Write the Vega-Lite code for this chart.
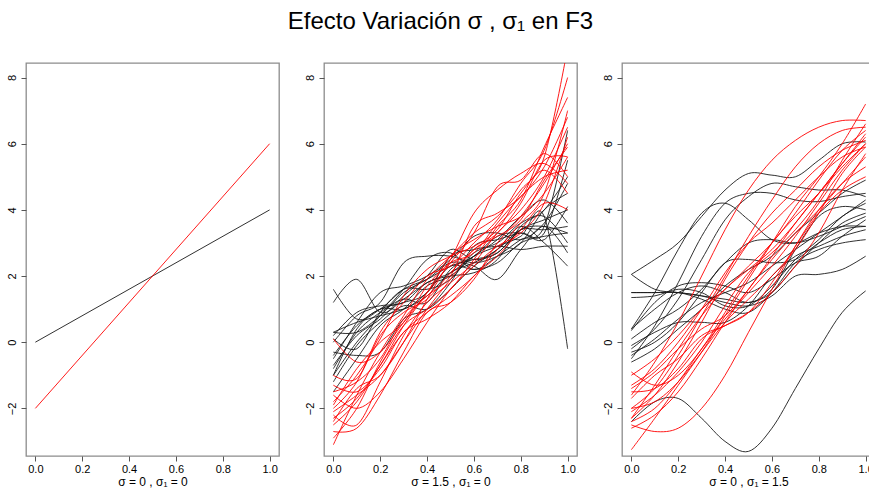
{
  "$schema": "https://vega.github.io/schema/vega-lite/v6.json",
  "padding": {"left": 5, "top": 10, "right": 0, "bottom": 0},
  "background": "white",
  "title": {"text": "Efecto Variación σ , σ₁ en F3", "font": "Liberation Sans", "fontSize": 24, "fontWeight": "normal", "color": "#000", "anchor": "middle", "offset": 28},
  "bounds": "flush",
  "spacing": 45,
  "config": {
    "view": {"stroke": "#8c8c8c", "strokeWidth": 1.3},
    "axis": {"grid": false, "domain": false, "tickColor": "#555", "tickSize": 5, "labelFont": "Liberation Sans", "labelFontSize": 11, "labelColor": "#000", "titleFont": "Liberation Sans", "titleFontSize": 12, "titleFontWeight": "normal", "titleColor": "#000"}
  },
  "datasets": {
    "d1": [
      {"s": "k", "c": "k", "x": 0, "y": 0}, {"s": "k", "c": "k", "x": 1, "y": 4},
      {"s": "r", "c": "r", "x": 0, "y": -2}, {"s": "r", "c": "r", "x": 1, "y": 6}
    ],
    "d2": [
      {"s":"k01","c":"k","x":0,"y":1.6},{"s":"k01","c":"k","x":0.1,"y":0.7},{"s":"k01","c":"k","x":0.2,"y":1.0},{"s":"k01","c":"k","x":0.3,"y":1.6},{"s":"k01","c":"k","x":0.4,"y":1.9},{"s":"k01","c":"k","x":0.5,"y":2.3},{"s":"k01","c":"k","x":0.6,"y":2.5},{"s":"k01","c":"k","x":0.7,"y":2.7},{"s":"k01","c":"k","x":0.8,"y":3.4},{"s":"k01","c":"k","x":0.9,"y":3.5},{"s":"k01","c":"k","x":1,"y":3.3},
      {"s":"k02","c":"k","x":0,"y":1.2},{"s":"k02","c":"k","x":0.1,"y":1.9},{"s":"k02","c":"k","x":0.2,"y":0.9},{"s":"k02","c":"k","x":0.3,"y":1.3},{"s":"k02","c":"k","x":0.4,"y":1.8},{"s":"k02","c":"k","x":0.5,"y":2.1},{"s":"k02","c":"k","x":0.6,"y":2.6},{"s":"k02","c":"k","x":0.7,"y":2.9},{"s":"k02","c":"k","x":0.8,"y":3.2},{"s":"k02","c":"k","x":0.9,"y":3.8},{"s":"k02","c":"k","x":1,"y":-0.2},
      {"s":"k03","c":"k","x":0,"y":0.3},{"s":"k03","c":"k","x":0.1,"y":0.3},{"s":"k03","c":"k","x":0.2,"y":0.8},{"s":"k03","c":"k","x":0.3,"y":1.5},{"s":"k03","c":"k","x":0.4,"y":1.9},{"s":"k03","c":"k","x":0.5,"y":2.4},{"s":"k03","c":"k","x":0.6,"y":2.3},{"s":"k03","c":"k","x":0.7,"y":1.9},{"s":"k03","c":"k","x":0.8,"y":2.8},{"s":"k03","c":"k","x":0.9,"y":3.5},{"s":"k03","c":"k","x":1,"y":2.7},
      {"s":"k04","c":"k","x":0,"y":-0.4},{"s":"k04","c":"k","x":0.1,"y":0.5},{"s":"k04","c":"k","x":0.2,"y":1.0},{"s":"k04","c":"k","x":0.3,"y":1.2},{"s":"k04","c":"k","x":0.4,"y":1.5},{"s":"k04","c":"k","x":0.5,"y":2.6},{"s":"k04","c":"k","x":0.6,"y":2.8},{"s":"k04","c":"k","x":0.7,"y":3.0},{"s":"k04","c":"k","x":0.8,"y":3.6},{"s":"k04","c":"k","x":0.9,"y":3.8},{"s":"k04","c":"k","x":1,"y":3.0},
      {"s":"k05","c":"k","x":0,"y":-1.0},{"s":"k05","c":"k","x":0.1,"y":0.0},{"s":"k05","c":"k","x":0.2,"y":0.8},{"s":"k05","c":"k","x":0.3,"y":1.6},{"s":"k05","c":"k","x":0.4,"y":2.5},{"s":"k05","c":"k","x":0.5,"y":2.7},{"s":"k05","c":"k","x":0.6,"y":2.2},{"s":"k05","c":"k","x":0.7,"y":2.6},{"s":"k05","c":"k","x":0.8,"y":3.1},{"s":"k05","c":"k","x":0.9,"y":3.5},{"s":"k05","c":"k","x":1,"y":6.4},
      {"s":"k06","c":"k","x":0,"y":-0.3},{"s":"k06","c":"k","x":0.1,"y":-0.4},{"s":"k06","c":"k","x":0.2,"y":-0.3},{"s":"k06","c":"k","x":0.3,"y":0.7},{"s":"k06","c":"k","x":0.4,"y":1.0},{"s":"k06","c":"k","x":0.5,"y":1.8},{"s":"k06","c":"k","x":0.6,"y":2.9},{"s":"k06","c":"k","x":0.7,"y":3.1},{"s":"k06","c":"k","x":0.8,"y":3.3},{"s":"k06","c":"k","x":0.9,"y":3.3},{"s":"k06","c":"k","x":1,"y":5.5},
      {"s":"k07","c":"k","x":0,"y":0.0},{"s":"k07","c":"k","x":0.1,"y":0.8},{"s":"k07","c":"k","x":0.2,"y":1.2},{"s":"k07","c":"k","x":0.3,"y":2.4},{"s":"k07","c":"k","x":0.4,"y":2.6},{"s":"k07","c":"k","x":0.5,"y":2.6},{"s":"k07","c":"k","x":0.6,"y":2.4},{"s":"k07","c":"k","x":0.7,"y":2.6},{"s":"k07","c":"k","x":0.8,"y":3.0},{"s":"k07","c":"k","x":0.9,"y":4.0},{"s":"k07","c":"k","x":1,"y":4.5},
      {"s":"k08","c":"k","x":0,"y":-1.5},{"s":"k08","c":"k","x":0.1,"y":-0.5},{"s":"k08","c":"k","x":0.2,"y":0.5},{"s":"k08","c":"k","x":0.3,"y":1.0},{"s":"k08","c":"k","x":0.4,"y":1.7},{"s":"k08","c":"k","x":0.5,"y":2.0},{"s":"k08","c":"k","x":0.6,"y":2.6},{"s":"k08","c":"k","x":0.7,"y":3.1},{"s":"k08","c":"k","x":0.8,"y":3.8},{"s":"k08","c":"k","x":0.9,"y":4.3},{"s":"k08","c":"k","x":1,"y":3.6},
      {"s":"k09","c":"k","x":0,"y":-0.8},{"s":"k09","c":"k","x":0.1,"y":0.3},{"s":"k09","c":"k","x":0.2,"y":0.9},{"s":"k09","c":"k","x":0.3,"y":1.3},{"s":"k09","c":"k","x":0.4,"y":1.2},{"s":"k09","c":"k","x":0.5,"y":2.2},{"s":"k09","c":"k","x":0.6,"y":2.6},{"s":"k09","c":"k","x":0.7,"y":3.2},{"s":"k09","c":"k","x":0.8,"y":3.3},{"s":"k09","c":"k","x":0.9,"y":3.1},{"s":"k09","c":"k","x":1,"y":4.1},
      {"s":"k10","c":"k","x":0,"y":0.2},{"s":"k10","c":"k","x":0.1,"y":0.9},{"s":"k10","c":"k","x":0.2,"y":1.1},{"s":"k10","c":"k","x":0.3,"y":1.2},{"s":"k10","c":"k","x":0.4,"y":1.8},{"s":"k10","c":"k","x":0.5,"y":2.0},{"s":"k10","c":"k","x":0.6,"y":2.1},{"s":"k10","c":"k","x":0.7,"y":2.5},{"s":"k10","c":"k","x":0.8,"y":3.5},{"s":"k10","c":"k","x":0.9,"y":4.0},{"s":"k10","c":"k","x":1,"y":5.0},
      {"s":"k11","c":"k","x":0,"y":-1.2},{"s":"k11","c":"k","x":0.1,"y":-0.1},{"s":"k11","c":"k","x":0.2,"y":0.6},{"s":"k11","c":"k","x":0.3,"y":1.1},{"s":"k11","c":"k","x":0.4,"y":1.0},{"s":"k11","c":"k","x":0.5,"y":1.6},{"s":"k11","c":"k","x":0.6,"y":2.3},{"s":"k11","c":"k","x":0.7,"y":2.8},{"s":"k11","c":"k","x":0.8,"y":3.5},{"s":"k11","c":"k","x":0.9,"y":3.0},{"s":"k11","c":"k","x":1,"y":2.3},
      {"s":"k12","c":"k","x":0,"y":-0.5},{"s":"k12","c":"k","x":0.1,"y":0.6},{"s":"k12","c":"k","x":0.2,"y":1.5},{"s":"k12","c":"k","x":0.3,"y":1.7},{"s":"k12","c":"k","x":0.4,"y":2.0},{"s":"k12","c":"k","x":0.5,"y":2.5},{"s":"k12","c":"k","x":0.6,"y":3.2},{"s":"k12","c":"k","x":0.7,"y":3.3},{"s":"k12","c":"k","x":0.8,"y":3.1},{"s":"k12","c":"k","x":0.9,"y":3.6},{"s":"k12","c":"k","x":1,"y":4.8},
      {"s":"k13","c":"k","x":0,"y":0.3},{"s":"k13","c":"k","x":0.1,"y":0.6},{"s":"k13","c":"k","x":0.2,"y":0.8},{"s":"k13","c":"k","x":0.3,"y":1.0},{"s":"k13","c":"k","x":0.4,"y":1.4},{"s":"k13","c":"k","x":0.5,"y":2.1},{"s":"k13","c":"k","x":0.6,"y":2.4},{"s":"k13","c":"k","x":0.7,"y":2.8},{"s":"k13","c":"k","x":0.8,"y":3.4},{"s":"k13","c":"k","x":0.9,"y":3.4},{"s":"k13","c":"k","x":1,"y":3.5},
      {"s":"k14","c":"k","x":0,"y":-0.7},{"s":"k14","c":"k","x":0.1,"y":0.2},{"s":"k14","c":"k","x":0.2,"y":0.7},{"s":"k14","c":"k","x":0.3,"y":1.4},{"s":"k14","c":"k","x":0.4,"y":2.0},{"s":"k14","c":"k","x":0.5,"y":2.8},{"s":"k14","c":"k","x":0.6,"y":2.5},{"s":"k14","c":"k","x":0.7,"y":2.7},{"s":"k14","c":"k","x":0.8,"y":3.4},{"s":"k14","c":"k","x":0.9,"y":3.7},{"s":"k14","c":"k","x":1,"y":4.0},
      {"s":"k15","c":"k","x":0,"y":0.1},{"s":"k15","c":"k","x":0.1,"y":-0.2},{"s":"k15","c":"k","x":0.2,"y":0.9},{"s":"k15","c":"k","x":0.3,"y":1.6},{"s":"k15","c":"k","x":0.4,"y":1.6},{"s":"k15","c":"k","x":0.5,"y":1.9},{"s":"k15","c":"k","x":0.6,"y":2.7},{"s":"k15","c":"k","x":0.7,"y":2.9},{"s":"k15","c":"k","x":0.8,"y":2.8},{"s":"k15","c":"k","x":0.9,"y":2.9},{"s":"k15","c":"k","x":1,"y":2.9},
      {"s":"k16","c":"k","x":0,"y":-1.0},{"s":"k16","c":"k","x":0.1,"y":0.4},{"s":"k16","c":"k","x":0.2,"y":1.0},{"s":"k16","c":"k","x":0.3,"y":1.0},{"s":"k16","c":"k","x":0.4,"y":1.5},{"s":"k16","c":"k","x":0.5,"y":2.3},{"s":"k16","c":"k","x":0.6,"y":2.2},{"s":"k16","c":"k","x":0.7,"y":2.4},{"s":"k16","c":"k","x":0.8,"y":3.0},{"s":"k16","c":"k","x":0.9,"y":3.2},{"s":"k16","c":"k","x":1,"y":3.3},
      {"s":"r01","c":"r","x":0,"y":-3.1},{"s":"r01","c":"r","x":0.1,"y":-1.6},{"s":"r01","c":"r","x":0.2,"y":-0.3},{"s":"r01","c":"r","x":0.3,"y":0.8},{"s":"r01","c":"r","x":0.4,"y":1.9},{"s":"r01","c":"r","x":0.5,"y":2.6},{"s":"r01","c":"r","x":0.6,"y":3.3},{"s":"r01","c":"r","x":0.7,"y":3.8},{"s":"r01","c":"r","x":0.8,"y":4.6},{"s":"r01","c":"r","x":0.9,"y":5.6},{"s":"r01","c":"r","x":1,"y":8.9},
      {"s":"r02","c":"r","x":0,"y":-2.0},{"s":"r02","c":"r","x":0.1,"y":-1.2},{"s":"r02","c":"r","x":0.2,"y":0.3},{"s":"r02","c":"r","x":0.3,"y":1.2},{"s":"r02","c":"r","x":0.4,"y":2.0},{"s":"r02","c":"r","x":0.5,"y":2.3},{"s":"r02","c":"r","x":0.6,"y":3.0},{"s":"r02","c":"r","x":0.7,"y":3.7},{"s":"r02","c":"r","x":0.8,"y":4.8},{"s":"r02","c":"r","x":0.9,"y":5.8},{"s":"r02","c":"r","x":1,"y":8.0},
      {"s":"r03","c":"r","x":0,"y":-2.5},{"s":"r03","c":"r","x":0.1,"y":-1.8},{"s":"r03","c":"r","x":0.2,"y":-0.7},{"s":"r03","c":"r","x":0.3,"y":0.3},{"s":"r03","c":"r","x":0.4,"y":0.9},{"s":"r03","c":"r","x":0.5,"y":1.4},{"s":"r03","c":"r","x":0.6,"y":2.0},{"s":"r03","c":"r","x":0.7,"y":2.8},{"s":"r03","c":"r","x":0.8,"y":3.6},{"s":"r03","c":"r","x":0.9,"y":4.5},{"s":"r03","c":"r","x":1,"y":7.0},
      {"s":"r04","c":"r","x":0,"y":-1.5},{"s":"r04","c":"r","x":0.1,"y":-1.2},{"s":"r04","c":"r","x":0.2,"y":-0.5},{"s":"r04","c":"r","x":0.3,"y":0.7},{"s":"r04","c":"r","x":0.4,"y":1.4},{"s":"r04","c":"r","x":0.5,"y":2.0},{"s":"r04","c":"r","x":0.6,"y":3.5},{"s":"r04","c":"r","x":0.7,"y":3.9},{"s":"r04","c":"r","x":0.8,"y":4.4},{"s":"r04","c":"r","x":0.9,"y":5.3},{"s":"r04","c":"r","x":1,"y":6.8},
      {"s":"r05","c":"r","x":0,"y":-2.2},{"s":"r05","c":"r","x":0.1,"y":-2.5},{"s":"r05","c":"r","x":0.2,"y":-1.2},{"s":"r05","c":"r","x":0.3,"y":0.2},{"s":"r05","c":"r","x":0.4,"y":1.2},{"s":"r05","c":"r","x":0.5,"y":1.8},{"s":"r05","c":"r","x":0.6,"y":2.4},{"s":"r05","c":"r","x":0.7,"y":3.3},{"s":"r05","c":"r","x":0.8,"y":4.0},{"s":"r05","c":"r","x":0.9,"y":5.0},{"s":"r05","c":"r","x":1,"y":6.5},
      {"s":"r06","c":"r","x":0,"y":-1.0},{"s":"r06","c":"r","x":0.1,"y":-1.1},{"s":"r06","c":"r","x":0.2,"y":0.2},{"s":"r06","c":"r","x":0.3,"y":0.9},{"s":"r06","c":"r","x":0.4,"y":1.3},{"s":"r06","c":"r","x":0.5,"y":2.1},{"s":"r06","c":"r","x":0.6,"y":2.8},{"s":"r06","c":"r","x":0.7,"y":3.3},{"s":"r06","c":"r","x":0.8,"y":4.2},{"s":"r06","c":"r","x":0.9,"y":5.5},{"s":"r06","c":"r","x":1,"y":5.6},
      {"s":"r07","c":"r","x":0,"y":0.1},{"s":"r07","c":"r","x":0.1,"y":-0.6},{"s":"r07","c":"r","x":0.2,"y":-0.3},{"s":"r07","c":"r","x":0.3,"y":0.6},{"s":"r07","c":"r","x":0.4,"y":1.5},{"s":"r07","c":"r","x":0.5,"y":2.4},{"s":"r07","c":"r","x":0.6,"y":3.3},{"s":"r07","c":"r","x":0.7,"y":4.7},{"s":"r07","c":"r","x":0.8,"y":4.9},{"s":"r07","c":"r","x":0.9,"y":5.7},{"s":"r07","c":"r","x":1,"y":5.0},
      {"s":"r08","c":"r","x":0,"y":-2.7},{"s":"r08","c":"r","x":0.1,"y":-2.6},{"s":"r08","c":"r","x":0.2,"y":-1.6},{"s":"r08","c":"r","x":0.3,"y":-0.3},{"s":"r08","c":"r","x":0.4,"y":0.9},{"s":"r08","c":"r","x":0.5,"y":1.2},{"s":"r08","c":"r","x":0.6,"y":1.9},{"s":"r08","c":"r","x":0.7,"y":3.0},{"s":"r08","c":"r","x":0.8,"y":3.8},{"s":"r08","c":"r","x":0.9,"y":4.8},{"s":"r08","c":"r","x":1,"y":6.0},
      {"s":"r09","c":"r","x":0,"y":-1.8},{"s":"r09","c":"r","x":0.1,"y":-1.0},{"s":"r09","c":"r","x":0.2,"y":0.1},{"s":"r09","c":"r","x":0.3,"y":1.4},{"s":"r09","c":"r","x":0.4,"y":2.2},{"s":"r09","c":"r","x":0.5,"y":2.6},{"s":"r09","c":"r","x":0.6,"y":2.9},{"s":"r09","c":"r","x":0.7,"y":3.4},{"s":"r09","c":"r","x":0.8,"y":4.5},{"s":"r09","c":"r","x":0.9,"y":5.2},{"s":"r09","c":"r","x":1,"y":4.5},
      {"s":"r10","c":"r","x":0,"y":-2.3},{"s":"r10","c":"r","x":0.1,"y":-1.7},{"s":"r10","c":"r","x":0.2,"y":-0.7},{"s":"r10","c":"r","x":0.3,"y":0.5},{"s":"r10","c":"r","x":0.4,"y":1.5},{"s":"r10","c":"r","x":0.5,"y":2.6},{"s":"r10","c":"r","x":0.6,"y":3.1},{"s":"r10","c":"r","x":0.7,"y":3.5},{"s":"r10","c":"r","x":0.8,"y":3.8},{"s":"r10","c":"r","x":0.9,"y":4.5},{"s":"r10","c":"r","x":1,"y":5.6},
      {"s":"r11","c":"r","x":0,"y":-1.3},{"s":"r11","c":"r","x":0.1,"y":-1.5},{"s":"r11","c":"r","x":0.2,"y":-0.8},{"s":"r11","c":"r","x":0.3,"y":0.3},{"s":"r11","c":"r","x":0.4,"y":0.7},{"s":"r11","c":"r","x":0.5,"y":1.2},{"s":"r11","c":"r","x":0.6,"y":2.0},{"s":"r11","c":"r","x":0.7,"y":2.6},{"s":"r11","c":"r","x":0.8,"y":3.4},{"s":"r11","c":"r","x":0.9,"y":4.2},{"s":"r11","c":"r","x":1,"y":4.0},
      {"s":"r12","c":"r","x":0,"y":-2.9},{"s":"r12","c":"r","x":0.1,"y":-2.0},{"s":"r12","c":"r","x":0.2,"y":-0.6},{"s":"r12","c":"r","x":0.3,"y":0.5},{"s":"r12","c":"r","x":0.4,"y":1.0},{"s":"r12","c":"r","x":0.5,"y":1.6},{"s":"r12","c":"r","x":0.6,"y":2.5},{"s":"r12","c":"r","x":0.7,"y":3.5},{"s":"r12","c":"r","x":0.8,"y":4.3},{"s":"r12","c":"r","x":0.9,"y":5.9},{"s":"r12","c":"r","x":1,"y":7.4},
      {"s":"r13","c":"r","x":0,"y":-1.9},{"s":"r13","c":"r","x":0.1,"y":-0.8},{"s":"r13","c":"r","x":0.2,"y":0.0},{"s":"r13","c":"r","x":0.3,"y":0.6},{"s":"r13","c":"r","x":0.4,"y":1.7},{"s":"r13","c":"r","x":0.5,"y":2.4},{"s":"r13","c":"r","x":0.6,"y":2.7},{"s":"r13","c":"r","x":0.7,"y":3.6},{"s":"r13","c":"r","x":0.8,"y":4.4},{"s":"r13","c":"r","x":0.9,"y":5.0},{"s":"r13","c":"r","x":1,"y":5.2},
      {"s":"r14","c":"r","x":0,"y":-2.4},{"s":"r14","c":"r","x":0.1,"y":-1.4},{"s":"r14","c":"r","x":0.2,"y":-1.0},{"s":"r14","c":"r","x":0.3,"y":0.0},{"s":"r14","c":"r","x":0.4,"y":1.3},{"s":"r14","c":"r","x":0.5,"y":2.5},{"s":"r14","c":"r","x":0.6,"y":3.9},{"s":"r14","c":"r","x":0.7,"y":4.6},{"s":"r14","c":"r","x":0.8,"y":5.1},{"s":"r14","c":"r","x":0.9,"y":5.4},{"s":"r14","c":"r","x":1,"y":4.8},
      {"s":"r15","c":"r","x":0,"y":-1.6},{"s":"r15","c":"r","x":0.1,"y":-2.0},{"s":"r15","c":"r","x":0.2,"y":-1.5},{"s":"r15","c":"r","x":0.3,"y":-0.5},{"s":"r15","c":"r","x":0.4,"y":0.6},{"s":"r15","c":"r","x":0.5,"y":1.6},{"s":"r15","c":"r","x":0.6,"y":2.3},{"s":"r15","c":"r","x":0.7,"y":2.9},{"s":"r15","c":"r","x":0.8,"y":3.3},{"s":"r15","c":"r","x":0.9,"y":4.2},{"s":"r15","c":"r","x":1,"y":6.2},
      {"s":"r16","c":"r","x":0,"y":-2.1},{"s":"r16","c":"r","x":0.1,"y":-1.6},{"s":"r16","c":"r","x":0.2,"y":-1.0},{"s":"r16","c":"r","x":0.3,"y":0.0},{"s":"r16","c":"r","x":0.4,"y":1.0},{"s":"r16","c":"r","x":0.5,"y":1.9},{"s":"r16","c":"r","x":0.6,"y":2.8},{"s":"r16","c":"r","x":0.7,"y":3.2},{"s":"r16","c":"r","x":0.8,"y":3.7},{"s":"r16","c":"r","x":0.9,"y":4.9},{"s":"r16","c":"r","x":1,"y":5.9}
    ],
    "d3": [
      {"s":"k01","c":"k","x":0,"y":-2.4},{"s":"k01","c":"k","x":0.1,"y":-1.8},{"s":"k01","c":"k","x":0.2,"y":-1.7},{"s":"k01","c":"k","x":0.3,"y":-2.3},{"s":"k01","c":"k","x":0.4,"y":-3.0},{"s":"k01","c":"k","x":0.5,"y":-3.3},{"s":"k01","c":"k","x":0.6,"y":-2.6},{"s":"k01","c":"k","x":0.7,"y":-1.4},{"s":"k01","c":"k","x":0.8,"y":-0.2},{"s":"k01","c":"k","x":0.9,"y":0.9},{"s":"k01","c":"k","x":1,"y":1.55},
      {"s":"k02","c":"k","x":0,"y":2.05},{"s":"k02","c":"k","x":0.1,"y":2.5},{"s":"k02","c":"k","x":0.2,"y":3.0},{"s":"k02","c":"k","x":0.3,"y":3.8},{"s":"k02","c":"k","x":0.4,"y":4.6},{"s":"k02","c":"k","x":0.5,"y":5.1},{"s":"k02","c":"k","x":0.6,"y":5.05},{"s":"k02","c":"k","x":0.7,"y":5.0},{"s":"k02","c":"k","x":0.8,"y":5.5},{"s":"k02","c":"k","x":0.9,"y":6.0},{"s":"k02","c":"k","x":1,"y":6.05},
      {"s":"k03","c":"k","x":0,"y":0.4},{"s":"k03","c":"k","x":0.1,"y":1.5},{"s":"k03","c":"k","x":0.2,"y":2.8},{"s":"k03","c":"k","x":0.3,"y":3.9},{"s":"k03","c":"k","x":0.4,"y":4.2},{"s":"k03","c":"k","x":0.5,"y":3.7},{"s":"k03","c":"k","x":0.6,"y":3.1},{"s":"k03","c":"k","x":0.7,"y":3.0},{"s":"k03","c":"k","x":0.8,"y":3.3},{"s":"k03","c":"k","x":0.9,"y":3.5},{"s":"k03","c":"k","x":1,"y":3.5},
      {"s":"k04","c":"k","x":0,"y":-0.5},{"s":"k04","c":"k","x":0.1,"y":0.5},{"s":"k04","c":"k","x":0.2,"y":1.8},{"s":"k04","c":"k","x":0.3,"y":3.2},{"s":"k04","c":"k","x":0.4,"y":4.2},{"s":"k04","c":"k","x":0.5,"y":4.5},{"s":"k04","c":"k","x":0.6,"y":4.5},{"s":"k04","c":"k","x":0.7,"y":4.3},{"s":"k04","c":"k","x":0.8,"y":4.25},{"s":"k04","c":"k","x":0.9,"y":4.4},{"s":"k04","c":"k","x":1,"y":4.5},
      {"s":"k05","c":"k","x":0,"y":1.5},{"s":"k05","c":"k","x":0.1,"y":1.5},{"s":"k05","c":"k","x":0.2,"y":1.5},{"s":"k05","c":"k","x":0.3,"y":1.4},{"s":"k05","c":"k","x":0.4,"y":1.3},{"s":"k05","c":"k","x":0.5,"y":1.2},{"s":"k05","c":"k","x":0.6,"y":1.5},{"s":"k05","c":"k","x":0.7,"y":2.3},{"s":"k05","c":"k","x":0.8,"y":3.0},{"s":"k05","c":"k","x":0.9,"y":3.6},{"s":"k05","c":"k","x":1,"y":3.9},
      {"s":"k06","c":"k","x":0,"y":1.35},{"s":"k06","c":"k","x":0.1,"y":1.4},{"s":"k06","c":"k","x":0.2,"y":1.6},{"s":"k06","c":"k","x":0.3,"y":1.5},{"s":"k06","c":"k","x":0.4,"y":1.1},{"s":"k06","c":"k","x":0.5,"y":1.1},{"s":"k06","c":"k","x":0.6,"y":1.7},{"s":"k06","c":"k","x":0.7,"y":2.5},{"s":"k06","c":"k","x":0.8,"y":3.1},{"s":"k06","c":"k","x":0.9,"y":3.8},{"s":"k06","c":"k","x":1,"y":4.2},
      {"s":"k07","c":"k","x":0,"y":2.05},{"s":"k07","c":"k","x":0.1,"y":1.6},{"s":"k07","c":"k","x":0.2,"y":1.5},{"s":"k07","c":"k","x":0.3,"y":1.4},{"s":"k07","c":"k","x":0.4,"y":1.2},{"s":"k07","c":"k","x":0.5,"y":1.1},{"s":"k07","c":"k","x":0.6,"y":1.4},{"s":"k07","c":"k","x":0.7,"y":2.0},{"s":"k07","c":"k","x":0.8,"y":2.05},{"s":"k07","c":"k","x":0.9,"y":2.2},{"s":"k07","c":"k","x":1,"y":2.6},
      {"s":"k08","c":"k","x":0,"y":0.35},{"s":"k08","c":"k","x":0.1,"y":1.2},{"s":"k08","c":"k","x":0.2,"y":1.7},{"s":"k08","c":"k","x":0.3,"y":1.8},{"s":"k08","c":"k","x":0.4,"y":1.7},{"s":"k08","c":"k","x":0.5,"y":1.5},{"s":"k08","c":"k","x":0.6,"y":1.9},{"s":"k08","c":"k","x":0.7,"y":2.4},{"s":"k08","c":"k","x":0.8,"y":2.6},{"s":"k08","c":"k","x":0.9,"y":3.2},{"s":"k08","c":"k","x":1,"y":3.7},
      {"s":"k09","c":"k","x":0,"y":-0.1},{"s":"k09","c":"k","x":0.1,"y":0.3},{"s":"k09","c":"k","x":0.2,"y":0.6},{"s":"k09","c":"k","x":0.3,"y":0.6},{"s":"k09","c":"k","x":0.4,"y":0.6},{"s":"k09","c":"k","x":0.5,"y":1.1},{"s":"k09","c":"k","x":0.6,"y":2.0},{"s":"k09","c":"k","x":0.7,"y":2.6},{"s":"k09","c":"k","x":0.8,"y":2.9},{"s":"k09","c":"k","x":0.9,"y":3.2},{"s":"k09","c":"k","x":1,"y":3.4},
      {"s":"k10","c":"k","x":0,"y":-0.3},{"s":"k10","c":"k","x":0.1,"y":0.0},{"s":"k10","c":"k","x":0.2,"y":0.6},{"s":"k10","c":"k","x":0.3,"y":1.5},{"s":"k10","c":"k","x":0.4,"y":2.4},{"s":"k10","c":"k","x":0.5,"y":2.5},{"s":"k10","c":"k","x":0.6,"y":2.4},{"s":"k10","c":"k","x":0.7,"y":2.5},{"s":"k10","c":"k","x":0.8,"y":3.0},{"s":"k10","c":"k","x":0.9,"y":3.4},{"s":"k10","c":"k","x":1,"y":3.5},
      {"s":"k11","c":"k","x":0,"y":0.1},{"s":"k11","c":"k","x":0.1,"y":0.6},{"s":"k11","c":"k","x":0.2,"y":1.0},{"s":"k11","c":"k","x":0.3,"y":1.6},{"s":"k11","c":"k","x":0.4,"y":2.4},{"s":"k11","c":"k","x":0.5,"y":3.0},{"s":"k11","c":"k","x":0.6,"y":3.1},{"s":"k11","c":"k","x":0.7,"y":3.0},{"s":"k11","c":"k","x":0.8,"y":3.2},{"s":"k11","c":"k","x":0.9,"y":3.5},{"s":"k11","c":"k","x":1,"y":3.8},
      {"s":"k12","c":"k","x":0,"y":-0.6},{"s":"k12","c":"k","x":0.1,"y":-0.2},{"s":"k12","c":"k","x":0.2,"y":0.4},{"s":"k12","c":"k","x":0.3,"y":1.0},{"s":"k12","c":"k","x":0.4,"y":1.7},{"s":"k12","c":"k","x":0.5,"y":2.2},{"s":"k12","c":"k","x":0.6,"y":2.6},{"s":"k12","c":"k","x":0.7,"y":3.3},{"s":"k12","c":"k","x":0.8,"y":3.9},{"s":"k12","c":"k","x":0.9,"y":4.5},{"s":"k12","c":"k","x":1,"y":4.9},
      {"s":"k13","c":"k","x":0,"y":-0.2},{"s":"k13","c":"k","x":0.1,"y":0.4},{"s":"k13","c":"k","x":0.2,"y":1.3},{"s":"k13","c":"k","x":0.3,"y":2.5},{"s":"k13","c":"k","x":0.4,"y":3.7},{"s":"k13","c":"k","x":0.5,"y":4.4},{"s":"k13","c":"k","x":0.6,"y":4.8},{"s":"k13","c":"k","x":0.7,"y":4.7},{"s":"k13","c":"k","x":0.8,"y":4.6},{"s":"k13","c":"k","x":0.9,"y":4.6},{"s":"k13","c":"k","x":1,"y":4.4},
      {"s":"k14","c":"k","x":0,"y":1.5},{"s":"k14","c":"k","x":0.1,"y":1.5},{"s":"k14","c":"k","x":0.2,"y":1.5},{"s":"k14","c":"k","x":0.3,"y":1.3},{"s":"k14","c":"k","x":0.4,"y":1.0},{"s":"k14","c":"k","x":0.5,"y":0.9},{"s":"k14","c":"k","x":0.6,"y":1.5},{"s":"k14","c":"k","x":0.7,"y":2.4},{"s":"k14","c":"k","x":0.8,"y":2.8},{"s":"k14","c":"k","x":0.9,"y":3.0},{"s":"k14","c":"k","x":1,"y":3.1},
      {"s":"k15","c":"k","x":0,"y":-0.4},{"s":"k15","c":"k","x":0.1,"y":0.1},{"s":"k15","c":"k","x":0.2,"y":0.7},{"s":"k15","c":"k","x":0.3,"y":1.2},{"s":"k15","c":"k","x":0.4,"y":1.5},{"s":"k15","c":"k","x":0.5,"y":1.8},{"s":"k15","c":"k","x":0.6,"y":2.3},{"s":"k15","c":"k","x":0.7,"y":2.8},{"s":"k15","c":"k","x":0.8,"y":3.3},{"s":"k15","c":"k","x":0.9,"y":3.8},{"s":"k15","c":"k","x":1,"y":4.3},
      {"s":"k16","c":"k","x":0,"y":0.4},{"s":"k16","c":"k","x":0.1,"y":1.0},{"s":"k16","c":"k","x":0.2,"y":1.5},{"s":"k16","c":"k","x":0.3,"y":1.7},{"s":"k16","c":"k","x":0.4,"y":1.5},{"s":"k16","c":"k","x":0.5,"y":1.2},{"s":"k16","c":"k","x":0.6,"y":1.6},{"s":"k16","c":"k","x":0.7,"y":2.8},{"s":"k16","c":"k","x":0.8,"y":3.8},{"s":"k16","c":"k","x":0.9,"y":4.1},{"s":"k16","c":"k","x":1,"y":4.0},
      {"s":"r01","c":"r","x":0,"y":-2.5},{"s":"r01","c":"r","x":0.1,"y":-2.7},{"s":"r01","c":"r","x":0.2,"y":-2.6},{"s":"r01","c":"r","x":0.3,"y":-2.0},{"s":"r01","c":"r","x":0.4,"y":-1.0},{"s":"r01","c":"r","x":0.5,"y":0.3},{"s":"r01","c":"r","x":0.6,"y":1.6},{"s":"r01","c":"r","x":0.7,"y":2.9},{"s":"r01","c":"r","x":0.8,"y":4.0},{"s":"r01","c":"r","x":0.9,"y":4.8},{"s":"r01","c":"r","x":1,"y":5.3},
      {"s":"r02","c":"r","x":0,"y":-3.25},{"s":"r02","c":"r","x":0.1,"y":-2.3},{"s":"r02","c":"r","x":0.2,"y":-1.3},{"s":"r02","c":"r","x":0.3,"y":-0.3},{"s":"r02","c":"r","x":0.4,"y":0.8},{"s":"r02","c":"r","x":0.5,"y":1.9},{"s":"r02","c":"r","x":0.6,"y":3.0},{"s":"r02","c":"r","x":0.7,"y":4.1},{"s":"r02","c":"r","x":0.8,"y":5.0},{"s":"r02","c":"r","x":0.9,"y":6.0},{"s":"r02","c":"r","x":1,"y":7.2},
      {"s":"r03","c":"r","x":0,"y":-1.6},{"s":"r03","c":"r","x":0.1,"y":-0.6},{"s":"r03","c":"r","x":0.2,"y":0.6},{"s":"r03","c":"r","x":0.3,"y":2.0},{"s":"r03","c":"r","x":0.4,"y":3.4},{"s":"r03","c":"r","x":0.5,"y":4.6},{"s":"r03","c":"r","x":0.6,"y":5.5},{"s":"r03","c":"r","x":0.7,"y":6.1},{"s":"r03","c":"r","x":0.8,"y":6.5},{"s":"r03","c":"r","x":0.9,"y":6.7},{"s":"r03","c":"r","x":1,"y":6.7},
      {"s":"r04","c":"r","x":0,"y":-2.0},{"s":"r04","c":"r","x":0.1,"y":-1.4},{"s":"r04","c":"r","x":0.2,"y":-0.4},{"s":"r04","c":"r","x":0.3,"y":0.8},{"s":"r04","c":"r","x":0.4,"y":2.0},{"s":"r04","c":"r","x":0.5,"y":3.2},{"s":"r04","c":"r","x":0.6,"y":4.3},{"s":"r04","c":"r","x":0.7,"y":5.3},{"s":"r04","c":"r","x":0.8,"y":6.0},{"s":"r04","c":"r","x":0.9,"y":6.4},{"s":"r04","c":"r","x":1,"y":6.5},
      {"s":"r05","c":"r","x":0,"y":-1.4},{"s":"r05","c":"r","x":0.1,"y":-0.9},{"s":"r05","c":"r","x":0.2,"y":-0.2},{"s":"r05","c":"r","x":0.3,"y":0.4},{"s":"r05","c":"r","x":0.4,"y":0.8},{"s":"r05","c":"r","x":0.5,"y":1.6},{"s":"r05","c":"r","x":0.6,"y":2.6},{"s":"r05","c":"r","x":0.7,"y":3.6},{"s":"r05","c":"r","x":0.8,"y":4.5},{"s":"r05","c":"r","x":0.9,"y":5.4},{"s":"r05","c":"r","x":1,"y":6.2},
      {"s":"r06","c":"r","x":0,"y":-2.4},{"s":"r06","c":"r","x":0.1,"y":-2.0},{"s":"r06","c":"r","x":0.2,"y":-1.2},{"s":"r06","c":"r","x":0.3,"y":-0.2},{"s":"r06","c":"r","x":0.4,"y":0.7},{"s":"r06","c":"r","x":0.5,"y":1.5},{"s":"r06","c":"r","x":0.6,"y":2.3},{"s":"r06","c":"r","x":0.7,"y":3.2},{"s":"r06","c":"r","x":0.8,"y":4.2},{"s":"r06","c":"r","x":0.9,"y":5.2},{"s":"r06","c":"r","x":1,"y":6.0},
      {"s":"r07","c":"r","x":0,"y":-0.9},{"s":"r07","c":"r","x":0.1,"y":-1.3},{"s":"r07","c":"r","x":0.2,"y":-1.0},{"s":"r07","c":"r","x":0.3,"y":-0.2},{"s":"r07","c":"r","x":0.4,"y":0.9},{"s":"r07","c":"r","x":0.5,"y":2.0},{"s":"r07","c":"r","x":0.6,"y":3.0},{"s":"r07","c":"r","x":0.7,"y":3.8},{"s":"r07","c":"r","x":0.8,"y":4.5},{"s":"r07","c":"r","x":0.9,"y":5.3},{"s":"r07","c":"r","x":1,"y":6.0},
      {"s":"r08","c":"r","x":0,"y":-2.3},{"s":"r08","c":"r","x":0.1,"y":-1.3},{"s":"r08","c":"r","x":0.2,"y":-0.2},{"s":"r08","c":"r","x":0.3,"y":0.8},{"s":"r08","c":"r","x":0.4,"y":1.6},{"s":"r08","c":"r","x":0.5,"y":2.2},{"s":"r08","c":"r","x":0.6,"y":2.8},{"s":"r08","c":"r","x":0.7,"y":3.6},{"s":"r08","c":"r","x":0.8,"y":4.5},{"s":"r08","c":"r","x":0.9,"y":5.4},{"s":"r08","c":"r","x":1,"y":6.3},
      {"s":"r09","c":"r","x":0,"y":-1.7},{"s":"r09","c":"r","x":0.1,"y":-1.0},{"s":"r09","c":"r","x":0.2,"y":-0.5},{"s":"r09","c":"r","x":0.3,"y":0.2},{"s":"r09","c":"r","x":0.4,"y":0.5},{"s":"r09","c":"r","x":0.5,"y":0.9},{"s":"r09","c":"r","x":0.6,"y":1.8},{"s":"r09","c":"r","x":0.7,"y":2.9},{"s":"r09","c":"r","x":0.8,"y":3.9},{"s":"r09","c":"r","x":0.9,"y":4.6},{"s":"r09","c":"r","x":1,"y":5.0},
      {"s":"r10","c":"r","x":0,"y":-2.0},{"s":"r10","c":"r","x":0.1,"y":-1.8},{"s":"r10","c":"r","x":0.2,"y":-1.2},{"s":"r10","c":"r","x":0.3,"y":-0.3},{"s":"r10","c":"r","x":0.4,"y":0.6},{"s":"r10","c":"r","x":0.5,"y":1.3},{"s":"r10","c":"r","x":0.6,"y":2.0},{"s":"r10","c":"r","x":0.7,"y":2.8},{"s":"r10","c":"r","x":0.8,"y":3.9},{"s":"r10","c":"r","x":0.9,"y":5.1},{"s":"r10","c":"r","x":1,"y":5.9},
      {"s":"r11","c":"r","x":0,"y":-2.3},{"s":"r11","c":"r","x":0.1,"y":-1.6},{"s":"r11","c":"r","x":0.2,"y":-0.6},{"s":"r11","c":"r","x":0.3,"y":0.6},{"s":"r11","c":"r","x":0.4,"y":1.9},{"s":"r11","c":"r","x":0.5,"y":3.0},{"s":"r11","c":"r","x":0.6,"y":3.9},{"s":"r11","c":"r","x":0.7,"y":4.6},{"s":"r11","c":"r","x":0.8,"y":5.3},{"s":"r11","c":"r","x":0.9,"y":5.8},{"s":"r11","c":"r","x":1,"y":6.1},
      {"s":"r12","c":"r","x":0,"y":-1.0},{"s":"r12","c":"r","x":0.1,"y":-0.5},{"s":"r12","c":"r","x":0.2,"y":0.2},{"s":"r12","c":"r","x":0.3,"y":1.0},{"s":"r12","c":"r","x":0.4,"y":1.6},{"s":"r12","c":"r","x":0.5,"y":2.3},{"s":"r12","c":"r","x":0.6,"y":3.0},{"s":"r12","c":"r","x":0.7,"y":3.9},{"s":"r12","c":"r","x":0.8,"y":4.9},{"s":"r12","c":"r","x":0.9,"y":5.8},{"s":"r12","c":"r","x":1,"y":6.4},
      {"s":"r13","c":"r","x":0,"y":-2.6},{"s":"r13","c":"r","x":0.1,"y":-2.2},{"s":"r13","c":"r","x":0.2,"y":-1.5},{"s":"r13","c":"r","x":0.3,"y":-0.5},{"s":"r13","c":"r","x":0.4,"y":0.6},{"s":"r13","c":"r","x":0.5,"y":1.6},{"s":"r13","c":"r","x":0.6,"y":2.5},{"s":"r13","c":"r","x":0.7,"y":3.3},{"s":"r13","c":"r","x":0.8,"y":4.0},{"s":"r13","c":"r","x":0.9,"y":4.8},{"s":"r13","c":"r","x":1,"y":5.6},
      {"s":"r14","c":"r","x":0,"y":-1.3},{"s":"r14","c":"r","x":0.1,"y":-0.8},{"s":"r14","c":"r","x":0.2,"y":0.0},{"s":"r14","c":"r","x":0.3,"y":1.0},{"s":"r14","c":"r","x":0.4,"y":2.1},{"s":"r14","c":"r","x":0.5,"y":3.0},{"s":"r14","c":"r","x":0.6,"y":3.6},{"s":"r14","c":"r","x":0.7,"y":4.3},{"s":"r14","c":"r","x":0.8,"y":5.0},{"s":"r14","c":"r","x":0.9,"y":5.6},{"s":"r14","c":"r","x":1,"y":5.9},
      {"s":"r15","c":"r","x":0,"y":-2.1},{"s":"r15","c":"r","x":0.1,"y":-1.6},{"s":"r15","c":"r","x":0.2,"y":-0.9},{"s":"r15","c":"r","x":0.3,"y":0.0},{"s":"r15","c":"r","x":0.4,"y":1.1},{"s":"r15","c":"r","x":0.5,"y":2.1},{"s":"r15","c":"r","x":0.6,"y":2.7},{"s":"r15","c":"r","x":0.7,"y":3.4},{"s":"r15","c":"r","x":0.8,"y":4.3},{"s":"r15","c":"r","x":0.9,"y":5.5},{"s":"r15","c":"r","x":1,"y":6.6},
      {"s":"r16","c":"r","x":0,"y":-1.5},{"s":"r16","c":"r","x":0.1,"y":-1.4},{"s":"r16","c":"r","x":0.2,"y":-0.8},{"s":"r16","c":"r","x":0.3,"y":0.1},{"s":"r16","c":"r","x":0.4,"y":0.5},{"s":"r16","c":"r","x":0.5,"y":0.9},{"s":"r16","c":"r","x":0.6,"y":1.5},{"s":"r16","c":"r","x":0.7,"y":2.3},{"s":"r16","c":"r","x":0.8,"y":3.3},{"s":"r16","c":"r","x":0.9,"y":4.6},{"s":"r16","c":"r","x":1,"y":5.7}
    ]
  },
  "hconcat": [
    {
      "data": {"name": "d1"},
      "width": 253, "height": 393,
      "mark": {"type": "line", "strokeWidth": 0.9, "clip": true},
      "encoding": {
        "x": {"field": "x", "type": "quantitative", "scale": {"domain": [-0.04, 1.04], "nice": false, "zero": false}, "axis": {"title": "σ = 0 , σ₁ = 0", "values": [0, 0.2, 0.4, 0.6, 0.8, 1], "format": ".1f", "labelPadding": 2, "titlePadding": 2}},
        "y": {"field": "y", "type": "quantitative", "scale": {"domain": [-3.44, 8.44], "nice": false, "zero": false}, "axis": {"title": null, "values": [-2, 0, 2, 4, 6, 8], "labelAngle": -90, "labelAlign": "center", "labelBaseline": "bottom", "labelPadding": 4}},
        "color": {"field": "c", "type": "nominal", "scale": {"domain": ["k", "r"], "range": ["#1a1a1a", "#ff0000"]}, "legend": null},
        "detail": {"field": "s"}
      }
    },
    {
      "data": {"name": "d2"},
      "width": 253, "height": 393,
      "mark": {"type": "line", "strokeWidth": 0.9, "interpolate": "cardinal", "clip": true},
      "encoding": {
        "x": {"field": "x", "type": "quantitative", "scale": {"domain": [-0.04, 1.04], "nice": false, "zero": false}, "axis": {"title": "σ = 1.5 , σ₁ = 0", "values": [0, 0.2, 0.4, 0.6, 0.8, 1], "format": ".1f", "labelPadding": 2, "titlePadding": 2}},
        "y": {"field": "y", "type": "quantitative", "scale": {"domain": [-3.44, 8.44], "nice": false, "zero": false}, "axis": {"title": null, "values": [-2, 0, 2, 4, 6, 8], "labelAngle": -90, "labelAlign": "center", "labelBaseline": "bottom", "labelPadding": 4}},
        "color": {"field": "c", "type": "nominal", "scale": {"domain": ["k", "r"], "range": ["#1a1a1a", "#ff0000"]}, "legend": null},
        "detail": {"field": "s"}
      }
    },
    {
      "data": {"name": "d3"},
      "width": 253, "height": 393,
      "mark": {"type": "line", "strokeWidth": 0.9, "interpolate": "cardinal", "clip": true},
      "encoding": {
        "x": {"field": "x", "type": "quantitative", "scale": {"domain": [-0.04, 1.04], "nice": false, "zero": false}, "axis": {"title": "σ = 0 , σ₁ = 1.5", "values": [0, 0.2, 0.4, 0.6, 0.8, 1], "format": ".1f", "labelPadding": 2, "titlePadding": 2}},
        "y": {"field": "y", "type": "quantitative", "scale": {"domain": [-3.44, 8.44], "nice": false, "zero": false}, "axis": {"title": null, "values": [-2, 0, 2, 4, 6, 8], "labelAngle": -90, "labelAlign": "center", "labelBaseline": "bottom", "labelPadding": 4}},
        "color": {"field": "c", "type": "nominal", "scale": {"domain": ["k", "r"], "range": ["#1a1a1a", "#ff0000"]}, "legend": null},
        "detail": {"field": "s"}
      }
    }
  ]
}
